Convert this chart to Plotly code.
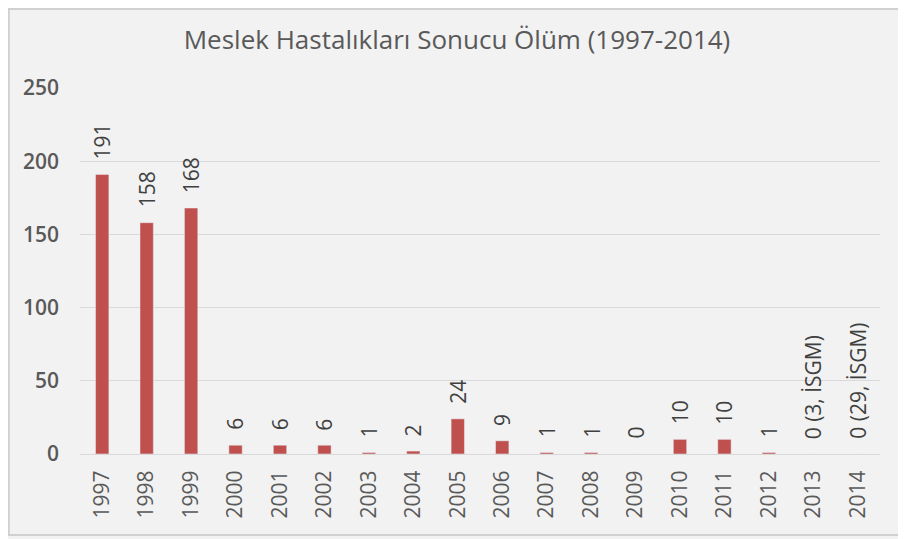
import plotly.graph_objects as go

years = ['1997', '1998', '1999', '2000', '2001', '2002', '2003', '2004', '2005',
         '2006', '2007', '2008', '2009', '2010', '2011', '2012', '2013', '2014']
deaths = [191, 158, 168, 6, 6, 6, 1, 2, 24, 9, 1, 1, 0, 10, 10, 1, 0, 0]
labels = ['191', '158', '168', '6', '6', '6', '1', '2', '24', '9', '1', '1', '0',
          '10', '10', '1', '0 (3, İSGM)', '0 (29, İSGM)']
y_ticks = [0, 50, 100, 150, 200, 250]

grey = '#595959'
font_name = 'Open Sans'

fig = go.Figure()
fig.add_trace(go.Bar(x=years, y=deaths, marker_color='#c0504d', width=0.3))

# value labels, rotated, sitting a little above each bar
# (category index used for x, string years get read as numbers)
for i, (val, lab) in enumerate(zip(deaths, labels)):
    fig.add_annotation(x=i, y=val, text=lab, textangle=-90, showarrow=False,
                       xanchor='center', yanchor='bottom', yshift=13,
                       font=dict(family=font_name, size=21, color='#404040'))

# page body adds 8px offset, margins compensate for it
fig.update_layout(
    width=906, height=539,
    paper_bgcolor='#f2f2f2', plot_bgcolor='#f2f2f2',
    margin=dict(l=72, r=34, t=80, b=93),
    showlegend=False,
    title=dict(text='Meslek Hastalıkları Sonucu Ölüm (1997-2014)',
               x=0.4956, xanchor='center', xref='container', y=0.94, yanchor='middle',
               font=dict(family=font_name, size=26, color=grey)),
    shapes=[dict(type='rect', xref='paper', yref='paper',
                 x0=-0.089, x1=1.03, y0=-0.221, y1=1.216,
                 line=dict(color='#d0d0d0', width=2))],
)
fig.update_xaxes(type='category', range=[-0.5, len(years) - 0.5], tickangle=-90,
                 automargin=False, ticklabelstandoff=7,
                 tickfont=dict(family=font_name, size=21, color=grey),
                 showgrid=False, showline=True, linecolor='#d9d9d9', ticks='')
fig.update_yaxes(range=[0, 250], tickvals=y_ticks, showgrid=True, gridcolor='#d9d9d9',
                 zeroline=False, ticks='', ticklabelstandoff=20, automargin=False,
                 tickfont=dict(family=font_name, size=21, color=grey, weight=600))

fig.write_html('out.html')
